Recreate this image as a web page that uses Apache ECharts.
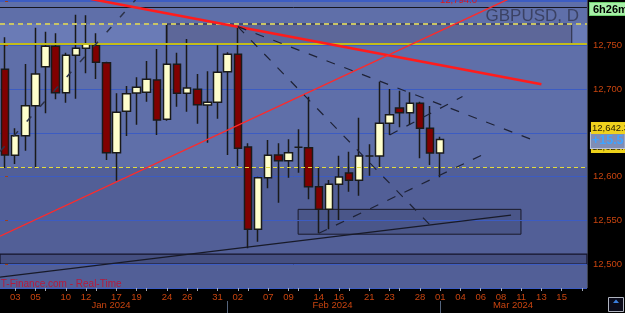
<!DOCTYPE html>
<html>
<head>
<meta charset="utf-8">
<script src="https://cdn.jsdelivr.net/npm/echarts@6/dist/echarts.min.js"></script>
<style>
  html, body { margin: 0; padding: 0; background: #000; }
  #main { width: 625px; height: 313px; }
</style>
</head>
<body>
<div id="main"></div>
<script>
// GBPUSD daily, prices as the platform shows them (12642.3 = 1.26423)
const days = ['01-02', '01-03', '01-04', '01-05', '01-08', '01-09', '01-10', '01-11', '01-12',
  '01-15', '01-16', '01-17', '01-18', '01-19', '01-22', '01-23', '01-24', '01-25', '01-26',
  '01-29', '01-30', '01-31', '02-01', '02-02', '02-05', '02-06', '02-07', '02-08', '02-09',
  '02-12', '02-13', '02-14', '02-15', '02-16', '02-19', '02-20', '02-21', '02-22', '02-23',
  '02-26', '02-27', '02-28', '02-29', '03-01'];
// empty slots on the right (the platform counts saturdays there)
const futureDays = ['03-02', '03-04', '03-05', '03-06', '03-07', '03-08', '03-09',
  '03-11', '03-12', '03-13', '03-14', '03-15', '03-16', '03-18'];

const opens = [12722.6, 12624.3, 12646.7, 12681.0, 12725.6, 12748.9, 12695.8, 12738.6, 12746.6,
  12750.0, 12730.1, 12627.2, 12674.6, 12695.5, 12696.3, 12710.4, 12665.4, 12728.3, 12695.1,
  12699.7, 12681.8, 12684.9, 12719.8, 12739.7, 12633.8, 12539.7, 12598.7, 12624.6, 12618.1,
  12633.4, 12633.0, 12588.4, 12562.6, 12591.1, 12604.0, 12595.7, 12623.5, 12623.5, 12660.9,
  12678.3, 12673.0, 12683.7, 12655.1, 12626.8];
const closes = [12624.6, 12646.7, 12681.0, 12717.2, 12748.9, 12695.8, 12738.6, 12746.6, 12751.8,
  12730.6, 12627.2, 12673.4, 12694.7, 12702.0, 12711.2, 12664.6, 12728.3, 12695.1, 12701.2,
  12682.1, 12684.9, 12719.2, 12739.7, 12632.3, 12539.7, 12598.7, 12624.3, 12618.1, 12627.2,
  12633.4, 12588.4, 12562.6, 12591.1, 12599.5, 12595.7, 12623.5, 12623.5, 12660.9, 12670.7,
  12673.0, 12683.7, 12655.1, 12626.8, 12642.3];
const lows = [12609.8, 12614.3, 12629.5, 12610.1, 12672.3, 12688.3, 12684.4, 12689.0, 12718.0,
  12711.5, 12618.9, 12595.2, 12646.3, 12659.3, 12685.5, 12647.5, 12663.8, 12679.8, 12674.1,
  12660.4, 12638.7, 12666.1, 12624.6, 12612.0, 12518.0, 12525.5, 12586.6, 12570.1, 12598.7,
  12604.4, 12574.0, 12535.1, 12539.7, 12550.3, 12582.7, 12578.1, 12601.0, 12610.5, 12647.5,
  12656.3, 12658.9, 12620.9, 12613.2, 12599.1];
const highs = [12759.2, 12655.1, 12728.6, 12770.1, 12765.6, 12763.7, 12741.6, 12785.0, 12784.3,
  12763.7, 12731.3, 12695.1, 12703.5, 12713.4, 12732.1, 12745.8, 12774.4, 12741.6, 12757.2,
  12717.2, 12720.3, 12750.0, 12742.0, 12771.3, 12638.0, 12599.8, 12641.8, 12638.0, 12642.6,
  12654.0, 12691.3, 12611.3, 12596.0, 12623.8, 12628.4, 12667.3, 12636.8, 12708.4, 12700.1,
  12698.1, 12696.3, 12685.5, 12680.6, 12645.5];

// x axis: labelled days, and days with a tick (labelled ones + mondays)
const labelDays = ['01-03', '01-05', '01-10', '01-12', '01-17', '01-19', '01-24', '01-26', '01-31',
  '02-02', '02-07', '02-09', '02-14', '02-16', '02-21', '02-23', '02-28', '03-01',
  '03-04', '03-06', '03-08', '03-11', '03-13', '03-15'];
const mondays = ['01-08', '01-15', '01-22', '01-29', '02-05', '02-12', '02-19', '02-26', '03-18'];
const monthStarts = ['02-01', '03-01'];

// drawn levels
const topLevel = 12793.5;       // black line, "12,794.0"
const zoneTop = 12774.4;        // yellow dashed
const zoneBottom = 12751.9;     // yellow solid
const lowDashed = 12610.6;      // bright yellow dashed
const floorBand = [12500, 12511.4];
const lastClose = 12642.3;

// trendlines, points as [slot index, price]
const redDownLine = [[8.5, 12802.9], [53.0, 12705.4]];
const redUpLine = [[-0.5, 12531.8], [51.0, 12809.6]];
const blackUpLine = [[-0.5, 12485.1], [50.0, 12556.0]];
const dashFanUpper = [[23, 12771.3], [52.0, 12642.5]];
const dashFanLower = [[23, 12771.3], [42.0, 12544.6]];
const dashLeft = [[-0.5, 12628.7], [12.9, 12802.0]];
const dashRise = [[31, 12535.1], [47.4, 12626.1]];
const dashRise2 = [[38, 12647.5], [45.2, 12691.5]];
// boxes: [[slot, price], [slot, price]]
const upperBox = [[16, zoneTop], [56, zoneBottom]];
const lowerBox = [[28.96, 12562.5], [50.98, 12534.1]];

const yMin = 12472.6, yMax = 12801.8;
const sans = "'Liberation Sans', Arial, sans-serif";
const axisRed = '#c8440f';

let myChart = echarts.init(document.getElementById('main'));

function trend(data, color, width, type) {
  return {
    type: 'line', xAxisIndex: 1, yAxisIndex: 0, data: data, z: 5,
    symbol: 'none', silent: true, animation: false,
    lineStyle: { color: color, width: width, type: type }
  };
}

const priceLabel = {
  show: true, position: 'end', distance: 4, fontFamily: sans, fontSize: 9.5, padding: [1, 1]
};

let option = {
  backgroundColor: '#000',
  animation: false,
  title: {
    text: 'GBPUSD, D', right: 41, top: 3,
    textStyle: { color: '#3b4264', fontSize: 17, fontWeight: 'normal', fontFamily: 'Liberation Sans' }
  },
  grid: {
    left: -2.6, right: 37.6, top: 0, bottom: 25,
    show: true, backgroundColor: 'transparent', borderColor: '#8d98b6', borderWidth: 1
  },
  xAxis: [
    {
      type: 'category', data: days.concat(futureDays), boundaryGap: true, z: 2,
      axisLine: { show: false },
      axisTick: {
        show: true, alignWithLabel: true, length: 3,
        interval: (i, v) => labelDays.includes(v) || mondays.includes(v),
        lineStyle: { color: '#a0a6b6' }
      },
      axisLabel: {
        color: axisRed, fontFamily: sans, fontSize: 9.5, margin: 4,
        interval: (i, v) => labelDays.includes(v),
        formatter: v => v.slice(3)
      },
      splitLine: { show: false }
    },
    { type: 'value', min: -0.5, max: 57.5, show: false },
    {
      type: 'category', data: days.concat(futureDays), boundaryGap: true, position: 'bottom', offset: 13,
      axisLine: { show: false }, axisLabel: { show: false },
      axisTick: {
        show: true, alignWithLabel: true, length: 12,
        interval: (i, v) => monthStarts.includes(v),
        lineStyle: { color: '#55647c' }
      }
    }
  ],
  yAxis: [{
    type: 'value', position: 'right', min: yMin, max: yMax, minInterval: 50, maxInterval: 50, z: 2,
    axisLine: { show: false },
    axisTick: { show: true, length: 3, lineStyle: { color: '#a04018' } },
    axisLabel: {
      color: axisRed, fontFamily: sans, fontSize: 9.5, margin: 6,
      showMinLabel: false, showMaxLabel: false,
      formatter: v => (v > 12790 || v < 12490) ? '' : v.toLocaleString('en-US')
    },
    splitLine: { show: true, lineStyle: { color: '#3c5cc2', width: 1 } }
  }],
  series: [
    // background zones
    {
      type: 'line', xAxisIndex: 1, data: [], z: 1, silent: true,
      markArea: {
        silent: true,
        data: [
          [{ yAxis: yMin, itemStyle: { color: '#525f97' } }, { yAxis: yMax }],
          [{ yAxis: lowDashed, itemStyle: { color: '#5f6fa9' } }, { yAxis: yMax }],
          [{ yAxis: zoneBottom, itemStyle: { color: '#6a7bb6' } }, { yAxis: zoneTop }],
          [{ yAxis: floorBand[0], itemStyle: { color: '#454f80', borderColor: '#15152a', borderWidth: 1.2 } }, { yAxis: floorBand[1] }],
          [{ coord: upperBox[0], itemStyle: { color: '#5d6799', borderColor: '#2a2d40', borderWidth: 1 } }, { coord: upperBox[1] }],
          [{ coord: lowerBox[0], itemStyle: { color: '#4a5689', borderColor: '#1a1a2a', borderWidth: 1 } }, { coord: lowerBox[1] }]
        ]
      }
    },
    // horizontal levels
    {
      type: 'line', xAxisIndex: 1, data: [], z: 3, silent: true,
      markLine: {
        silent: true, symbol: ['none', 'none'], label: { show: false },
        data: [
          { yAxis: topLevel, lineStyle: { color: '#15151f', width: 1, type: 'solid' } },
          { yAxis: zoneTop, lineStyle: { color: '#c8c466', width: 2, type: [5, 4] } },
          { yAxis: zoneBottom, lineStyle: { color: '#c2bc1c', width: 2, type: 'solid' } },
          { yAxis: lowDashed, lineStyle: { color: '#e4dc3c', width: 1, type: [4, 3] } }
        ]
      },
      markPoint: {
        silent: true, symbol: 'rect', symbolSize: 1, itemStyle: { color: 'rgba(0,0,0,0)' },
        data: [{
          coord: [44.8, topLevel],
          label: { show: true, position: 'top', distance: 1, formatter: '12,794.0', color: '#e01818', fontFamily: sans, fontSize: 9.5 }
        }]
      }
    },
    {
      type: 'candlestick', xAxisIndex: 0, yAxisIndex: 0, z: 4, barWidth: 8,
      data: days.map((d, i) => [opens[i], closes[i], lows[i], highs[i]]),
      itemStyle: {
        color: '#ffffcc', color0: '#800000',
        borderColor: '#1a1a1a', borderColor0: '#1a1a1a', borderColorDoji: '#1a1a1a', borderWidth: 1.5
      },
      markLine: {
        silent: true, symbol: ['none', 'none'],
        lineStyle: { color: 'rgba(0,0,0,0)', width: 0 },
        data: [
          { yAxis: lastClose, label: Object.assign({}, priceLabel, { formatter: '12,626.8', backgroundColor: '#eed21a', color: '#2a2000', offset: [0, 7.5] }) },
          { yAxis: lastClose, label: Object.assign({}, priceLabel, { formatter: '+15.5', backgroundColor: '#7f8db6', borderColor: '#b8c2dc', borderWidth: 1, color: '#3fa4ff', fontWeight: 'bold', fontSize: 12.5, offset: [0, 1] }) },
          { yAxis: lastClose, label: Object.assign({}, priceLabel, { formatter: '12,642.3', backgroundColor: '#f0d21e', color: '#2a2000', offset: [0, -11.5] }) }
        ]
      }
    },
    trend(redDownLine, '#ff1c1c', 2.6, 'solid'),
    trend(redUpLine, '#ff2a2a', 1.4, 'solid'),
    trend(blackUpLine, '#181a28', 1.2, 'solid'),
    trend(dashFanUpper, '#1e2236', 1.2, [9, 10]),
    trend(dashFanLower, '#1e2236', 1.2, [9, 10]),
    trend(dashLeft, '#2c3248', 1.5, [7, 13]),
    trend(dashRise, '#1e2236', 1.2, [9, 10]),
    trend(dashRise2, '#1e2236', 1.2, [9, 10])
  ],
  graphic: [
    { type: 'text', z: 10, x: -2, y: 284, style: { text: 'IT-Finance.com - Real-Time', fill: '#b51a3c', font: "10px " + sans, verticalAlign: 'middle' } },
    { type: 'text', z: 10, x: 111, y: 305, style: { text: 'Jan 2024', fill: axisRed, font: "9.5px " + sans, align: 'center', verticalAlign: 'middle' } },
    { type: 'text', z: 10, x: 332.5, y: 305, style: { text: 'Feb 2024', fill: axisRed, font: "9.5px " + sans, align: 'center', verticalAlign: 'middle' } },
    { type: 'text', z: 10, x: 513, y: 305, style: { text: 'Mar 2024', fill: axisRed, font: "9.5px " + sans, align: 'center', verticalAlign: 'middle' } },
    { type: 'text', z: 10, x: 590, y: 3, style: { text: '6h26m', fill: '#000', font: "bold 11px 'Liberation Sans'", backgroundColor: '#a6f0a6', borderColor: '#6fcf6f', borderWidth: 1, padding: [1, 3, 0, 3] } },
    { type: 'rect', z: 10, shape: { x: 608.5, y: 297.5, width: 15, height: 14 }, style: { fill: '#0b0b1a', stroke: '#b0b4c0', lineWidth: 1 } },
    { type: 'polygon', z: 10, shape: { points: [[613, 303], [616, 299.5], [619, 303]] }, style: { fill: '#3a7fe0' } }
  ]
};

myChart.setOption(option);
</script>
</body>
</html>
